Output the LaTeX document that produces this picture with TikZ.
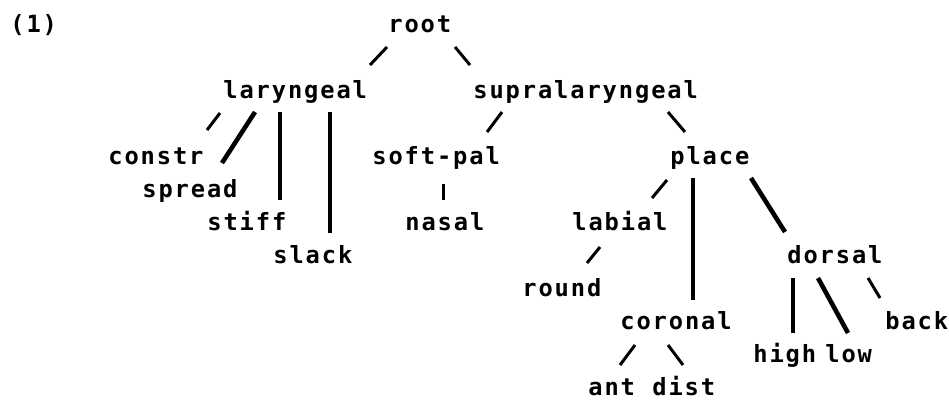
\documentclass[tikz,border=0pt]{standalone}
\usepackage{fontspec}
\usepackage{tikz}
\usetikzlibrary{positioning}
\newfontfamily\printfont[LetterSpace=8]{DejaVu Sans Mono}
\tikzset{
  feat/.style={anchor=base west, inner sep=0pt,
               font=\printfont\bfseries\fontsize{13.5}{15}\selectfont},
  branch/.style={line width=1.7pt},
  heavybranch/.style={line width=2.6pt}
}

\begin{document}
\begin{tikzpicture}[x=0.02cm, y=-0.02cm]
  % ── Page frame (949 x 400 px) ──────────────────────────────────────────
  \useasboundingbox (0,0) rectangle (949,400);
  \fill[white] (0,0) rectangle (949,400);

  % ── Example number ─────────────────────────────────────────────────────
  \node[feat] (exnum) at (10,32) {(1)};

  % ── Feature nodes (left edge, baseline; rows are 33 px apart) ──────────
  \node[feat] (root)    at (388,32)  {root};
  \node[feat] (lar)     at (223,98)  {laryngeal};
  \node[feat] (supra)   at (473,98)  {supralaryngeal};
  \node[feat] (constr)  at (108,164) {constr};
  \node[feat] (spread)  at (142,197) {spread};
  \node[feat] (stiff)   at (207,230) {stiff};
  \node[feat] (slack)   at (273,263) {slack};
  \node[feat] (softpal) at (372,164) {soft-pal};
  \node[feat] (nasal)   at (405,230) {nasal};
  \node[feat] (place)   at (670,164) {place};
  \node[feat] (labial)  at (572,230) {labial};
  \node[feat] (round)   at (522,296) {round};
  \node[feat] (dorsal)  at (787,263) {dorsal};
  \node[feat] (coronal) at (620,329) {coronal};
  \node[feat] (back)    at (885,329) {back};
  \node[feat] (high)    at (753,362) {high};
  \node[feat] (low)     at (825,362) {low};
  \node[feat] (ant)     at (588,395) {ant};
  \node[feat] (dist)    at (652,395) {dist};

  % ── Branches (short strokes between mother and daughter) ───────────────
  \draw[branch] ([shift={(-1,15)}]root.base west) -- ([shift={(147,-33)}]lar.base west);
  \draw[branch] ([shift={(67,15)}]root.base west) -- ([shift={(-3,-33)}]supra.base west);

  \draw[branch]      ([shift={(-3,15)}]lar.base west)  -- ([shift={(99,-34)}]constr.base west);
  \draw[heavybranch] ([shift={(32,14)}]lar.base west)  -- ([shift={(80,-34)}]spread.base west);
  \draw[heavybranch] ([shift={(57,14)}]lar.base west)  -- ([shift={(73,-30)}]stiff.base west);
  \draw[heavybranch] ([shift={(107,14)}]lar.base west) -- ([shift={(57,-30)}]slack.base west);

  \draw[branch] ([shift={(29,14)}]supra.base west)  -- ([shift={(115,-32)}]softpal.base west);
  \draw[branch] ([shift={(195,14)}]supra.base west) -- ([shift={(15,-32)}]place.base west);
  \draw[branch] ([shift={(71,20)}]softpal.base west) -- ([shift={(38,-30)}]nasal.base west);

  \draw[branch]      ([shift={(-3,16)}]place.base west) -- ([shift={(80,-32)}]labial.base west);
  \draw[heavybranch] ([shift={(23,14)}]place.base west) -- ([shift={(73,-29)}]coronal.base west);
  \draw[heavybranch] ([shift={(81,14)}]place.base west) -- ([shift={(-2,-31)}]dorsal.base west);

  \draw[branch] ([shift={(28,17)}]labial.base west) -- ([shift={(65,-33)}]round.base west);

  \draw[heavybranch] ([shift={(6,15)}]dorsal.base west)  -- ([shift={(40,-29)}]high.base west);
  \draw[heavybranch] ([shift={(31,15)}]dorsal.base west) -- ([shift={(23,-29)}]low.base west);
  \draw[branch]      ([shift={(81,15)}]dorsal.base west) -- ([shift={(-5,-31)}]back.base west);

  \draw[branch] ([shift={(15,16)}]coronal.base west) -- ([shift={(32,-30)}]ant.base west);
  \draw[branch] ([shift={(48,16)}]coronal.base west) -- ([shift={(31,-30)}]dist.base west);
\end{tikzpicture}
\end{document}
